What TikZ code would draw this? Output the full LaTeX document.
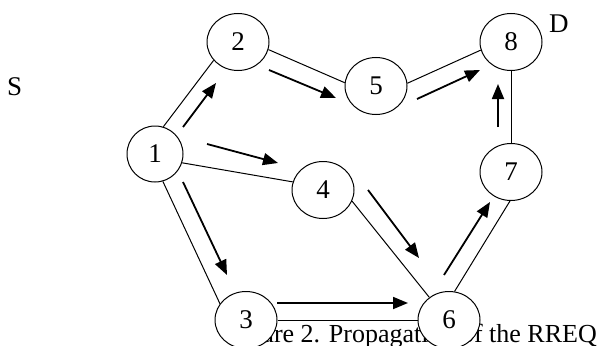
\documentclass[tikz,border=0pt]{standalone}
\usepackage{fontspec}
\setmainfont{Liberation Serif}
\usetikzlibrary{shapes.geometric,arrows.meta}
\begin{document}
\begin{tikzpicture}[x=1pt,y=-1pt,
  every node/.style={font=\fontsize{27}{31}\selectfont},
  vert/.style={ellipse,draw,line width=1pt,fill=white,minimum width=62pt,minimum height=57pt,inner sep=0pt},
  edge/.style={line width=1pt},
  arr/.style={line width=1.8pt,-{Triangle[length=15pt,width=12pt]}},
  lab/.style={inner sep=0pt,anchor=base west}]
\useasboundingbox (0,0) rectangle (599,345);
% caption (partly hidden behind nodes 3 and 6)
\node[inner sep=0pt,anchor=base east,font=\fontsize{26}{30}\selectfont] (cap) at (597,342) {Figure 2. Propagation of the RREQ};
% nodes
\node[vert,minimum width=56pt,minimum height=56pt] (n1) at (155,154) {1};
\node[vert] (n2) at (238,42) {2};
\node[vert] (n3) at (246,320) {3};
\node[vert] (n4) at (323,190) {4};
\node[vert] (n5) at (376,86) {5};
\node[vert] (n6) at (449,320) {6};
\node[vert] (n7) at (511,172) {7};
\node[vert] (n8) at (511,42) {8};
\node[lab] (S) at (7,95) {S};
\node[lab] (D) at (549,33) {D};
% edges
\draw[edge] (n1.73) -- (n2.217);
\draw[edge] (n2.-14) -- (n5.174);
\draw[edge] (n1.-18) -- (n4.165);
\draw[edge] (n1.-74) -- (n3.148);
\draw[edge] (n3.east) -- (n6.west);
\draw[edge] (n4.-21) -- (n6.131);
\draw[edge] (n6.79) -- (n7.-92);
\draw[edge] (n5.5) -- (n8.195);
\draw[edge] (n8.-90) -- (n7.90);
% arrow end points
\coordinate (a12s) at (183,127); \coordinate (a12e) at (216,83);
\coordinate (a25s) at (269,70);  \coordinate (a25e) at (336,98);
\coordinate (a14s) at (207,144); \coordinate (a14e) at (278,163);
\coordinate (a58s) at (417,99);  \coordinate (a58e) at (480,70);
\coordinate (a78s) at (498,127); \coordinate (a78e) at (498,84);
\coordinate (a13s) at (183,182); \coordinate (a13e) at (227,275);
\coordinate (a46s) at (368,190); \coordinate (a46e) at (419,258);
\coordinate (a36s) at (277,303); \coordinate (a36e) at (408,303);
\coordinate (a67s) at (444,275); \coordinate (a67e) at (490,202);
% propagation arrows
\draw[arr] (a12s) -- (a12e);
\draw[arr] (a25s) -- (a25e);
\draw[arr] (a14s) -- (a14e);
\draw[arr] (a58s) -- (a58e);
\draw[arr] (a78s) -- (a78e);
\draw[arr] (a13s) -- (a13e);
\draw[arr] (a46s) -- (a46e);
\draw[arr] (a36s) -- (a36e);
\draw[arr] (a67s) -- (a67e);
\end{tikzpicture}
\end{document}
